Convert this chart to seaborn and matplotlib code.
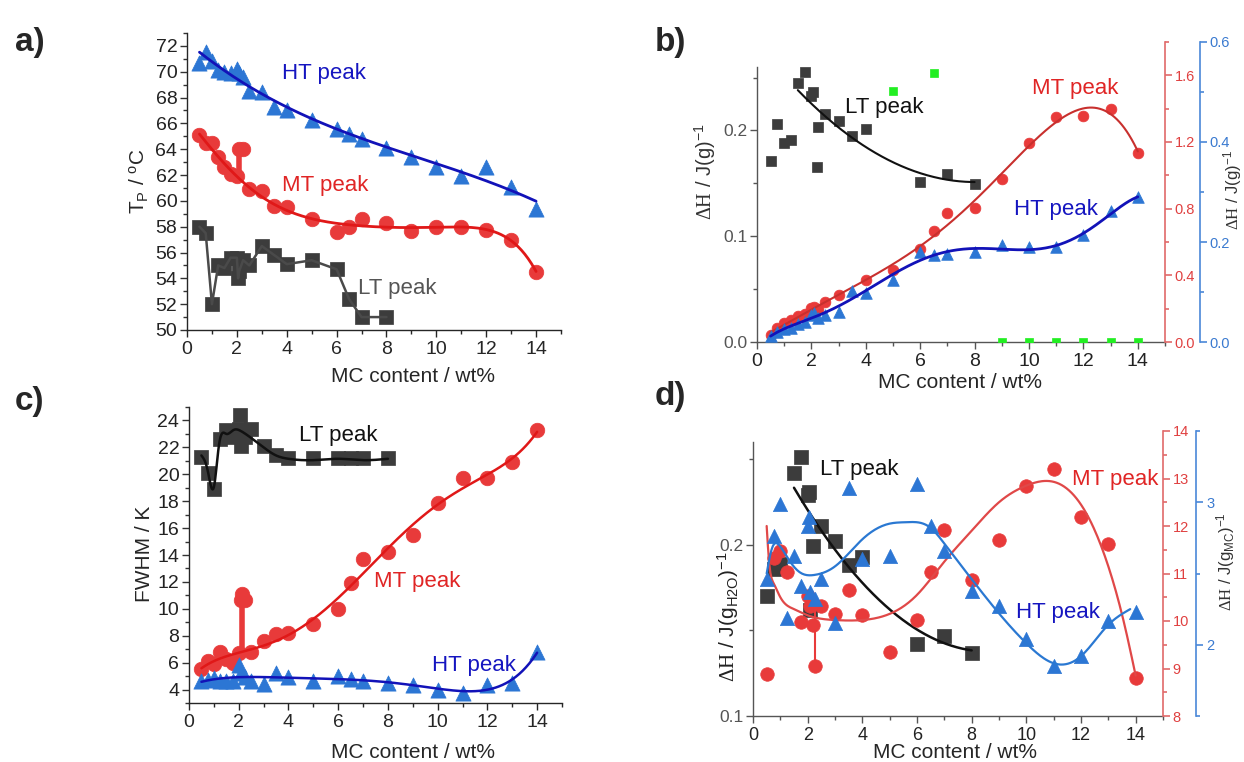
import numpy as np
import matplotlib
matplotlib.use("Agg")
import matplotlib.pyplot as plt
import seaborn as sns
from matplotlib.ticker import MultipleLocator

# ---------------- data ----------------
# panel a : peak temperature
a_ht_x = [0.5, 0.75, 1, 1.25, 1.5, 1.75, 2, 2.1, 2.25, 2.5, 3, 3.5, 4, 5, 6, 6.5, 7, 8, 9, 10, 11, 12, 13, 14]
a_ht_y = [70.7, 71.5, 70.8, 70.1, 70.0, 69.9, 70.2, 69.9, 69.6, 68.5, 68.4, 67.3, 67.0, 66.3, 65.6, 65.2, 64.8, 64.1, 63.4, 62.6, 61.9, 62.6, 61.1, 59.4]
a_mt_x = [0.5, 0.75, 1, 1.25, 1.5, 1.75, 2, 2.1, 2.25, 2.5, 3, 3.5, 4, 5, 6, 6.5, 7, 8, 9, 10, 11, 12, 13, 14]
a_mt_y = [65.1, 64.5, 64.5, 63.4, 62.6, 62.1, 61.9, 64.0, 64.0, 60.9, 60.8, 59.6, 59.5, 58.6, 57.6, 58.0, 58.6, 58.25, 57.7, 57.95, 57.95, 57.75, 57.0, 54.5]
a_mt_outlier = [False]*7 + [True, True] + [False]*15
a_mt_bar = (2.1, 61.9, 64.0)
a_lt_x = [0.5, 0.75, 1, 1.25, 1.5, 1.75, 2, 2.05, 2.1, 2.25, 2.5, 3, 3.5, 4, 5, 6, 6.5, 7, 8]
a_lt_y = [58.0, 57.5, 52.0, 55.0, 54.8, 55.6, 55.6, 54.0, 54.6, 55.4, 55.0, 56.5, 55.8, 55.1, 55.4, 54.7, 52.4, 51.0, 51.0]

# panel b : enthalpy per gram
b_lt_x = [0.5, 0.75, 1, 1.25, 1.5, 1.75, 2, 2.05, 2.2, 2.25, 2.5, 3, 3.5, 4, 6, 7, 8]
b_lt_y = [0.171, 0.206, 0.188, 0.191, 0.245, 0.255, 0.233, 0.236, 0.165, 0.203, 0.216, 0.209, 0.195, 0.201, 0.151, 0.159, 0.149]
b_gr_x = [5, 6.5, 9, 10, 11, 12, 13, 14]
b_gr_y = [0.237, 0.254, 0, 0, 0, 0, 0, 0]
b_mt_x = [0.5, 0.75, 1, 1.25, 1.5, 1.75, 2, 2.1, 2.25, 2.5, 3, 4, 5, 6, 6.5, 7, 8, 9, 10, 11, 12, 13, 14]
b_mt_y = [0.04, 0.085, 0.115, 0.132, 0.158, 0.168, 0.202, 0.212, 0.196, 0.238, 0.282, 0.375, 0.435, 0.557, 0.665, 0.773, 0.805, 0.975, 1.195, 1.35, 1.355, 1.40, 1.135]
b_ht_x = [0.5, 0.75, 1, 1.25, 1.5, 1.75, 2, 2.1, 2.25, 2.5, 3, 3.5, 4, 5, 6, 6.5, 7, 8, 9, 10, 11, 12, 13, 14]
b_ht_y = [0.013, 0.02, 0.026, 0.028, 0.036, 0.041, 0.054, 0.058, 0.049, 0.055, 0.061, 0.103, 0.099, 0.124, 0.179, 0.173, 0.175, 0.179, 0.193, 0.189, 0.189, 0.213, 0.261, 0.289]

# panel c : FWHM
c_lt_x = [0.5, 0.75, 1, 1.25, 1.5, 1.75, 2, 2.05, 2.1, 2.25, 2.5, 3, 3.5, 4, 5, 6, 6.5, 7, 8]
c_lt_y = [21.3, 20.1, 18.9, 22.6, 23.3, 22.8, 23.4, 24.4, 22.1, 22.8, 23.4, 22.1, 21.4, 21.2, 21.2, 21.2, 21.2, 21.2, 21.2]
c_lt_fit_x = [0.5, 0.75, 1.0, 1.2, 1.5, 1.8, 2.1, 2.5, 3.0, 3.5, 4.0, 5.0, 6.0, 7.0, 8.0]
c_lt_fit_y = [21.4, 20.3, 19.05, 22.1, 23.0, 23.3, 23.2, 22.7, 22.0, 21.4, 21.15, 21.05, 21.15, 21.05, 21.15]
c_mt_x = [0.5, 0.75, 1, 1.25, 1.5, 1.75, 2, 2.1, 2.15, 2.25, 2.5, 3, 3.5, 4, 5, 6, 6.5, 7, 8, 9, 10, 11, 12, 13, 14]
c_mt_y = [5.55, 6.1, 5.9, 6.8, 6.3, 6.0, 6.7, 10.65, 11.1, 10.65, 6.8, 7.6, 8.1, 8.2, 8.85, 10.0, 11.9, 13.7, 14.25, 15.5, 17.9, 19.7, 19.7, 20.9, 23.3]
c_mt_outlier = [False]*7 + [True, True, True] + [False]*15
c_mt_bar = (2.12, 6.7, 11.1)
c_ht_x = [0.5, 0.75, 1, 1.25, 1.5, 1.75, 2, 2.1, 2.25, 2.5, 3, 3.5, 4, 5, 6, 6.5, 7, 8, 9, 10, 11, 12, 13, 14]
c_ht_y = [4.6, 4.7, 4.85, 4.6, 4.6, 4.6, 5.85, 5.2, 4.95, 4.6, 4.4, 5.2, 4.9, 4.65, 5.0, 4.75, 4.65, 4.5, 4.35, 4.0, 3.75, 4.35, 4.5, 6.8]

# panel d : enthalpy per gram of water / MC
d_lt_x = [0.5, 0.75, 1, 1.5, 1.75, 2, 2.05, 2.1, 2.2, 2.5, 3, 3.5, 4, 6, 7, 8]
d_lt_y = [0.170, 0.186, 0.189, 0.242, 0.251, 0.229, 0.231, 0.162, 0.199, 0.211, 0.202, 0.188, 0.193, 0.142, 0.147, 0.137]
d_mt_x = [0.5, 0.75, 1, 1.25, 1.75, 2, 2.1, 2.2, 2.25, 2.5, 3, 3.5, 4, 5, 6, 6.5, 7, 8, 9, 10, 11, 12, 13, 14]
d_mt_y = [8.88, 11.33, 11.47, 11.03, 9.97, 10.53, 10.31, 9.91, 9.05, 10.31, 10.14, 10.65, 10.12, 9.35, 10.03, 11.03, 11.91, 10.87, 11.71, 12.85, 13.2, 12.19, 11.63, 8.79]
d_mt_bar = (2.25, 9.05, 10.3)
d_mt_fit_x = [0.5, 0.58, 0.75, 1.0, 1.5, 2.0, 3.0, 4.0, 5.0, 6.0, 7.0, 8.0, 9.0, 10.0, 11.0, 12.0, 13.0, 13.6, 14.0]
d_mt_fit_y = [12.0, 11.3, 10.8, 10.5, 10.25, 10.12, 10.02, 10.02, 10.15, 10.55, 11.25, 11.9, 12.5, 12.85, 12.93, 12.45, 11.15, 9.9, 8.85]
d_ht_x = [0.5, 0.75, 1, 1.25, 1.5, 1.75, 2, 2.05, 2.1, 2.25, 2.5, 3, 3.5, 4, 5, 6, 6.5, 7, 8, 9, 10, 11, 12, 13, 14]
d_ht_y = [2.46, 2.76, 2.99, 2.19, 2.62, 2.41, 2.83, 2.90, 2.37, 2.32, 2.46, 2.15, 3.10, 2.60, 2.62, 3.13, 2.83, 2.66, 2.38, 2.27, 2.04, 1.85, 1.92, 2.17, 2.23]
d_ht_fit_x = [0.5, 0.7, 0.95, 1.3, 1.7, 2.25, 3.0, 4.0, 5.0, 5.6, 6.5, 7.0, 8.0, 9.0, 10.0, 11.0, 12.0, 13.0, 13.8]
d_ht_fit_y = [2.5, 2.68, 2.7, 2.6, 2.51, 2.49, 2.55, 2.74, 2.85, 2.86, 2.82, 2.71, 2.46, 2.22, 2.01, 1.87, 1.92, 2.14, 2.25]

xticks = [0, 2, 4, 6, 8, 10, 12, 14]

# ---------------- style ----------------
sns.set_theme(style="ticks")
plt.rcParams["font.family"] = ["Liberation Sans", "DejaVu Sans"]
plt.rcParams["mathtext.fontset"] = "custom"
plt.rcParams["mathtext.rm"] = "Liberation Serif"
plt.rcParams["mathtext.sf"] = "Liberation Sans"
plt.rcParams["mathtext.it"] = "Liberation Sans:italic"
plt.rcParams["mathtext.bf"] = "Liberation Sans:bold"
plt.rcParams["axes.linewidth"] = 1.0

BLUE_M = "#2c76d4"
BLUE_L = "#1212b8"
RED_M = "#e83a3a"
RED_L = "#e01818"
GRAY_M = "#3c3c3c"

fig = plt.figure(figsize=(12.44, 7.62), dpi=100)
W, H = 1244.0, 762.0


def box(l, r, t, b):
    return [l / W, 1 - b / H, (r - l) / W, (b - t) / H]


def spline(xk, yk, n=300):
    xk = np.asarray(xk, float)
    yk = np.asarray(yk, float)
    m = len(xk)
    h = np.diff(xk)
    A = np.zeros((m, m))
    r = np.zeros(m)
    A[0, 0] = A[-1, -1] = 1
    for i in range(1, m - 1):
        A[i, i - 1] = h[i - 1]
        A[i, i] = 2 * (h[i - 1] + h[i])
        A[i, i + 1] = h[i]
        r[i] = 3 * ((yk[i + 1] - yk[i]) / h[i] - (yk[i] - yk[i - 1]) / h[i - 1])
    c = np.linalg.solve(A, r)
    b = (yk[1:] - yk[:-1]) / h - h * (2 * c[:-1] + c[1:]) / 3
    d = (c[1:] - c[:-1]) / (3 * h)
    xs = np.linspace(xk[0], xk[-1], n)
    i = np.clip(np.searchsorted(xk, xs) - 1, 0, m - 2)
    dx = xs - xk[i]
    return xs, yk[i] + b[i] * dx + c[i] * dx ** 2 + d[i] * dx ** 3


def polyline(x, y, deg, lo=None, hi=None, mask=None):
    x = np.asarray(x, float)
    y = np.asarray(y, float)
    if mask is not None:
        keep = ~np.asarray(mask)
        x, y = x[keep], y[keep]
    p = np.polyfit(x, y, deg)
    lo = x.min() if lo is None else lo
    hi = x.max() if hi is None else hi
    xs = np.linspace(lo, hi, 300)
    return xs, np.polyval(p, xs)


def style_axis(ax, xlim, ylim, ymaj, ymin, lab=14, ylab=14, ycol="#222222"):
    ax.set_xlim(*xlim)
    ax.set_ylim(*ylim)
    ax.set_xticks(xticks)
    ax.xaxis.set_minor_locator(MultipleLocator(1))
    ax.yaxis.set_major_locator(MultipleLocator(ymaj))
    ax.yaxis.set_minor_locator(MultipleLocator(ymin))
    ax.tick_params(axis="x", which="major", direction="out", length=5, width=1, labelsize=lab, pad=3)
    ax.tick_params(axis="x", which="minor", direction="out", length=3, width=1)
    ax.tick_params(axis="y", which="major", direction="out", length=5, width=1, labelsize=ylab, colors="#333333", labelcolor=ycol, pad=2)
    ax.tick_params(axis="y", which="minor", direction="out", length=3, width=1, colors="#333333")
    for s in ["top", "right"]:
        ax.spines[s].set_visible(False)
    ax.set_facecolor("none")
    ax.set_xlabel("")
    ax.set_ylabel("")


def right_axis(rect, ylim, maj, mnr, color, tcol, outward=0, labsize=10.5):
    r = fig.add_axes(rect)
    r.set_facecolor("none")
    r.set_xlim(0, 15)
    r.set_ylim(*ylim)
    for s in ["top", "left", "bottom"]:
        r.spines[s].set_visible(False)
    r.spines["right"].set_color(color)
    r.spines["right"].set_linewidth(1.2)
    if outward:
        r.spines["right"].set_position(("outward", outward))
    r.xaxis.set_visible(False)
    r.yaxis.tick_right()
    r.yaxis.set_major_locator(MultipleLocator(maj))
    r.yaxis.set_minor_locator(MultipleLocator(mnr))
    r.tick_params(axis="y", which="major", direction="out", length=5, width=1.2, colors=color, labelcolor=tcol, labelsize=labsize, pad=2)
    r.tick_params(axis="y", which="minor", direction="out", length=3, width=1.2, colors=color)
    return r


def scat(ax, x, y, marker, color, s):
    sns.scatterplot(x=x, y=y, ax=ax, marker=marker, color=color, s=s, edgecolor=color, linewidth=0.5, zorder=3, legend=False)


def line(ax, xs, ys, color, lw=1.8):
    sns.lineplot(x=xs, y=ys, ax=ax, color=color, lw=lw, sort=False, estimator=None, legend=False, zorder=4)


DH = r"$\mathrm{\Delta H}$"

# ---------------- panel a ----------------
axa = fig.add_axes(box(187, 561, 33, 330))
scat(axa, a_lt_x, a_lt_y, "s", GRAY_M, 95)
line(axa, a_lt_x, a_lt_y, "#4a4a4a", 1.8)
axa.vlines(a_mt_bar[0], a_mt_bar[1], a_mt_bar[2], color=RED_M, lw=4, zorder=3)
scat(axa, a_mt_x, a_mt_y, "o", RED_M, 110)
scat(axa, a_ht_x, a_ht_y, "^", BLUE_M, 120)
line(axa, *polyline(a_ht_x, a_ht_y, 3), BLUE_L, 2)
line(axa, *polyline(a_mt_x, a_mt_y, 6, mask=a_mt_outlier), RED_L, 2)
style_axis(axa, (0, 15), (50, 73), 2, 1)
axa.text(3.8, 69.9, "HT peak", color="#1515c0", fontsize=16, va="center")
axa.text(3.8, 61.2, "MT peak", color="#e02525", fontsize=16, va="center")
axa.text(6.85, 53.2, "LT peak", color="#555555", fontsize=16, va="center")
fig.text(139 / W, 1 - 181 / H, r"T$_{\mathsf{P}}$ / $^{\mathsf{o}}$C", rotation=90, ha="center", va="center", fontsize=15)
fig.text(413 / W, 1 - 377 / H, "MC content / wt%", ha="center", va="center", fontsize=15)

# ---------------- panel b ----------------
axb = fig.add_axes(box(757, 1165, 67, 342))
rb = right_axis(box(757, 1165, 42, 342), (0, 1.8), 0.4, 0.2, "#e06a6a", "#e04040")
bb = right_axis(box(757, 1165, 42, 342), (0, 0.6), 0.2, 0.1, "#4a88d8", "#3a7ad0", outward=25)
scat(axb, b_lt_x, b_lt_y, "s", GRAY_M, 60)
scat(axb, b_gr_x, b_gr_y, "s", "#22ee22", 40)
line(axb, *polyline(b_lt_x, b_lt_y, 2, lo=1.5, mask=[v < 1.5 for v in b_lt_x]), "#111111", 1.5)
scat(rb, b_mt_x, b_mt_y, "o", RED_M, 60)
line(rb, *polyline(b_mt_x, b_mt_y, 5), "#c8302e", 1.5)
scat(bb, b_ht_x, b_ht_y, "^", BLUE_M, 70)
line(bb, *polyline(b_ht_x, b_ht_y, 6), BLUE_L, 2)
style_axis(axb, (0, 15), (0, 0.26), 0.1, 0.05, lab=14, ylab=12.5, ycol="#555555")
axb.spines["left"].set_color("#555555")
axb.spines["bottom"].set_color("#555555")
axb.tick_params(axis="both", which="both", colors="#555555")
axb.tick_params(axis="x", labelcolor="#222222")
axb.text(3.25, 0.2215, "LT peak", color="#111111", fontsize=16, va="center")
axb.text(10.1, 0.240, "MT peak", color="#e02525", fontsize=16, va="center")
axb.text(9.45, 0.125, "HT peak", color="#1515c0", fontsize=16, va="center")
fig.text(705 / W, 1 - 172 / H, DH + r" / J(g)$^{\mathsf{-1}}$", rotation=90, ha="center", va="center", fontsize=14.5, color="#333333")
fig.text(1233 / W, 1 - 190 / H, DH + r" / J(g)$^{\mathsf{-1}}$", rotation=90, ha="center", va="center", fontsize=12, color="#333333")
fig.text(960 / W, 1 - 383 / H, "MC content / wt%", ha="center", va="center", fontsize=15)

# ---------------- panel c ----------------
axc = fig.add_axes(box(189, 562, 407, 703))
scat(axc, c_lt_x, c_lt_y, "s", GRAY_M, 95)
line(axc, *spline(c_lt_fit_x, c_lt_fit_y), "#111111", 1.8)
axc.vlines(c_mt_bar[0], c_mt_bar[1], c_mt_bar[2], color=RED_M, lw=4, zorder=3)
scat(axc, c_mt_x, c_mt_y, "o", RED_M, 110)
line(axc, *polyline(c_mt_x, c_mt_y, 5, mask=c_mt_outlier), RED_L, 1.8)
scat(axc, c_ht_x, c_ht_y, "^", BLUE_M, 120)
line(axc, *polyline(c_ht_x, c_ht_y, 6), BLUE_L, 1.8)
style_axis(axc, (0, 15), (3, 25), 2, 1)
axc.text(4.44, 22.9, "LT peak", color="#111111", fontsize=16, va="center")
axc.text(7.43, 12.06, "MT peak", color="#e02525", fontsize=16, va="center")
axc.text(9.76, 5.78, "HT peak", color="#1515c0", fontsize=16, va="center")
fig.text(145 / W, 1 - 554 / H, "FWHM / K", rotation=90, ha="center", va="center", fontsize=15)
fig.text(413 / W, 1 - 752 / H, "MC content / wt%", ha="center", va="center", fontsize=15)

# ---------------- panel d ----------------
axd = fig.add_axes(box(753, 1163, 442, 716))
rd = right_axis(box(753, 1163, 431, 716), (8, 14), 1, 0.5, "#e06a6a", "#e04040")
bd = right_axis(box(753, 1163, 431, 716), (1.5, 3.5), 1, 0.5, "#4a88d8", "#3a7ad0", outward=24)
scat(axd, d_lt_x, d_lt_y, "s", GRAY_M, 90)
line(axd, *polyline(d_lt_x, d_lt_y, 2, lo=1.5, mask=[v < 1.5 for v in d_lt_x]), "#111111", 1.8)
rd.vlines(d_mt_bar[0], d_mt_bar[1], d_mt_bar[2], color=RED_M, lw=1.5, zorder=3)
scat(rd, d_mt_x, d_mt_y, "o", RED_M, 95)
line(rd, *spline(d_mt_fit_x, d_mt_fit_y), "#e04848", 1.6)
scat(bd, d_ht_x, d_ht_y, "^", BLUE_M, 105)
line(bd, *spline(d_ht_fit_x, d_ht_fit_y), "#2a78d2", 1.6)
style_axis(axd, (0, 15), (0.1, 0.26), 0.1, 0.05, lab=13, ylab=12.5, ycol="#555555")
axd.spines["left"].set_color("#555555")
axd.spines["bottom"].set_color("#555555")
axd.tick_params(axis="both", which="both", colors="#555555")
axd.tick_params(axis="x", labelcolor="#222222")
axd.text(2.45, 0.244, "LT peak", color="#111111", fontsize=16, va="center")
axd.text(11.67, 0.238, "MT peak", color="#e02525", fontsize=16, va="center")
axd.text(9.62, 0.1605, "HT peak", color="#1515c0", fontsize=16, va="center")
fig.text(728 / W, 1 - 617 / H, DH + r" / J(g$_{\mathsf{H2O}}$)$^{\mathsf{-1}}$", rotation=90, ha="center", va="center", fontsize=15, color="#222222")
fig.text(1226 / W, 1 - 562 / H, DH + r" / J(g$_{\mathsf{MC}}$)$^{\mathsf{-1}}$", rotation=90, ha="center", va="center", fontsize=12, color="#333333")
fig.text(955 / W, 1 - 753 / H, "MC content / wt%", ha="center", va="center", fontsize=15)

# panel letters
for t, x, y in [("a)", 30, 42), ("b)", 670, 42), ("c)", 30, 402), ("d)", 670, 396)]:
    fig.text(x / W, 1 - y / H, t, fontsize=24, fontweight="bold", ha="center", va="center")

fig.savefig("out.png", dpi=100)
